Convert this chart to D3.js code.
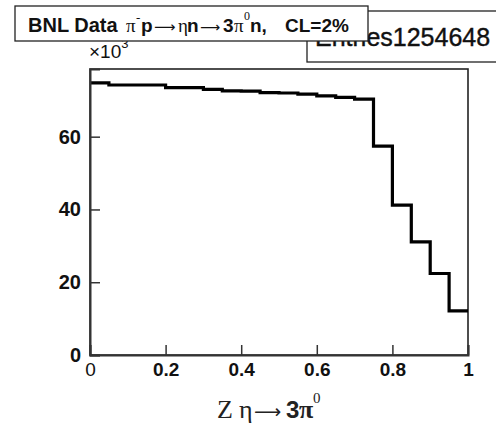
<!DOCTYPE html>
<html>
<head>
<meta charset="utf-8">
<script src="https://cdn.jsdelivr.net/npm/d3@7"></script>
<style>
  html, body { margin: 0; padding: 0; background: #fff; }
  svg { display: block; font-family: "Liberation Sans", Arial, sans-serif; }
  text { white-space: pre; }
</style>
</head>
<body>
<svg id="chart" width="496" height="424"></svg>
<script>
// bin low edges (width 0.05) and contents in units of 10^3
const binEdges = [0, 0.05, 0.1, 0.15, 0.2, 0.25, 0.3, 0.35, 0.4, 0.45,
                  0.5, 0.55, 0.6, 0.65, 0.7, 0.75, 0.8, 0.85, 0.9, 0.95];
const binCounts = [74.8, 74.2, 74.2, 74.2, 73.5, 73.5, 73.0, 72.6, 72.5, 72.1,
                   72.0, 71.7, 71.2, 70.8, 70.3, 57.4, 41.2, 31.1, 22.4, 12.1];
const xTicks = [0, 0.2, 0.4, 0.6, 0.8, 1];
const yTicks = [0, 20, 40, 60];
const entries = "1254648";

const svg = d3.select('#chart');
const serif = '"Liberation Serif", "Times New Roman", serif';
const arrowFont = '"DejaVu Sans", sans-serif';
const x = d3.scaleLinear().domain([0, 1]).range([90, 468]);
const y = d3.scaleLinear().domain([0, 78.6]).range([355, 69]);

// frame
svg.append('rect')
  .attr('x', x(0)).attr('y', y(78.6))
  .attr('width', x(1) - x(0)).attr('height', y(0) - y(78.6))
  .attr('fill', 'none').attr('stroke', '#222').attr('stroke-width', 1.6);

// histogram outline
const pts = binEdges.map((e, i) => [e, binCounts[i]]);
pts.push([1, binCounts[binCounts.length - 1]]);
svg.append('path')
  .datum(pts)
  .attr('fill', 'none')
  .attr('stroke', '#000')
  .attr('stroke-width', 3.2)
  .attr('d', d3.line().x(d => x(d[0])).y(d => y(d[1])).curve(d3.curveStepAfter));

// y axis, ticks pointing inward
const gy = svg.append('g')
  .attr('transform', `translate(${x(0)},0)`)
  .call(d3.axisLeft(y).tickValues(yTicks).tickSize(-10).tickPadding(9).tickFormat(d3.format('d')));
gy.select('.domain').attr('stroke', '#333').attr('stroke-width', 2);
gy.selectAll('.tick line').attr('stroke', '#333').attr('stroke-width', 1.5);
gy.selectAll('.tick text')
  .attr('font-family', '"Liberation Sans", Arial, sans-serif')
  .attr('font-size', 20).attr('font-weight', 'bold').attr('fill', '#111');

// x axis
const gx = svg.append('g')
  .attr('transform', `translate(0,${y(0)})`)
  .call(d3.axisBottom(x).tickValues(xTicks).tickSize(-10).tickPadding(8)
    .tickFormat(d => d === 0 || d === 1 ? String(d) : d3.format('.1f')(d)));
gx.select('.domain').attr('stroke', '#333').attr('stroke-width', 2);
gx.selectAll('.tick line').attr('stroke', '#333').attr('stroke-width', 1.5);
gx.selectAll('.tick text')
  .attr('font-family', '"Liberation Sans", Arial, sans-serif')
  .attr('font-size', 19)
  .attr('font-weight', d => d === 0 ? 'normal' : 'bold')
  .attr('fill', '#111');

// exponent label
const ex = svg.append('text')
  .attr('x', 89).attr('y', 58)
  .attr('font-size', 19).attr('fill', '#111');
ex.append('tspan').text('\u00d710');
ex.append('tspan').attr('dy', -10).attr('font-size', 13).text('3');

// helper: text pieces with explicit start positions
function pieces (sel, list, base) {
  list.forEach(p => {
    const ts = sel.append('tspan').attr('x', p.x).attr('y', base + (p.dy || 0)).text(p.t);
    if (p.bold) ts.attr('font-weight', 'bold');
    if (p.font) ts.attr('font-family', p.font);
    if (p.size) ts.attr('font-size', p.size);
  });
}

// x axis title
const xt = svg.append('text').attr('font-size', 26).attr('fill', '#222');
pieces(xt, [
  { t: 'Z', x: 217, font: serif },
  { t: '\u03b7', x: 239, font: serif },
  { t: '\u27f6', x: 254, font: arrowFont, size: 19 },
  { t: '3', x: 286, bold: true, size: 24 },
  { t: '\u03c0', x: 299, font: serif, bold: true, size: 26 },
  { t: '0', x: 313, font: serif, size: 15, dy: -15 }
], 418);

// stats box (drawn first, title box overlaps it)
svg.append('rect')
  .attr('x', 307).attr('y', 11).attr('width', 200).attr('height', 51)
  .attr('fill', '#fff').attr('stroke', '#222').attr('stroke-width', 1.3);
svg.append('text')
  .attr('x', 315).attr('y', 46)
  .attr('font-size', 25).attr('fill', '#111')
  .attr('stroke', '#111').attr('stroke-width', 0.4)
  .text('Entries' + entries);

// title box
svg.append('rect')
  .attr('x', 15).attr('y', 6).attr('width', 353).attr('height', 35)
  .attr('fill', '#fff').attr('stroke', '#222').attr('stroke-width', 1.3);
const tt = svg.append('text').attr('font-size', 19).attr('fill', '#111');
pieces(tt, [
  { t: 'BNL Data', x: 28, bold: true, size: 20 },
  { t: '\u03c0', x: 126, font: serif, size: 19 },
  { t: '-', x: 136, font: serif, size: 13, dy: -10 },
  { t: 'p', x: 141, bold: true },
  { t: '\u27f6', x: 154, font: arrowFont, size: 15 },
  { t: '\u03b7', x: 178, font: serif, size: 19 },
  { t: 'n', x: 187, bold: true },
  { t: '\u27f6', x: 200, font: arrowFont, size: 14 },
  { t: '3', x: 223, bold: true },
  { t: '\u03c0', x: 234, font: serif, size: 19 },
  { t: '0', x: 244, font: serif, size: 12, dy: -12 },
  { t: 'n,', x: 250, bold: true },
  { t: 'CL=2%', x: 285, bold: true }
], 32);
</script>
</body>
</html>
